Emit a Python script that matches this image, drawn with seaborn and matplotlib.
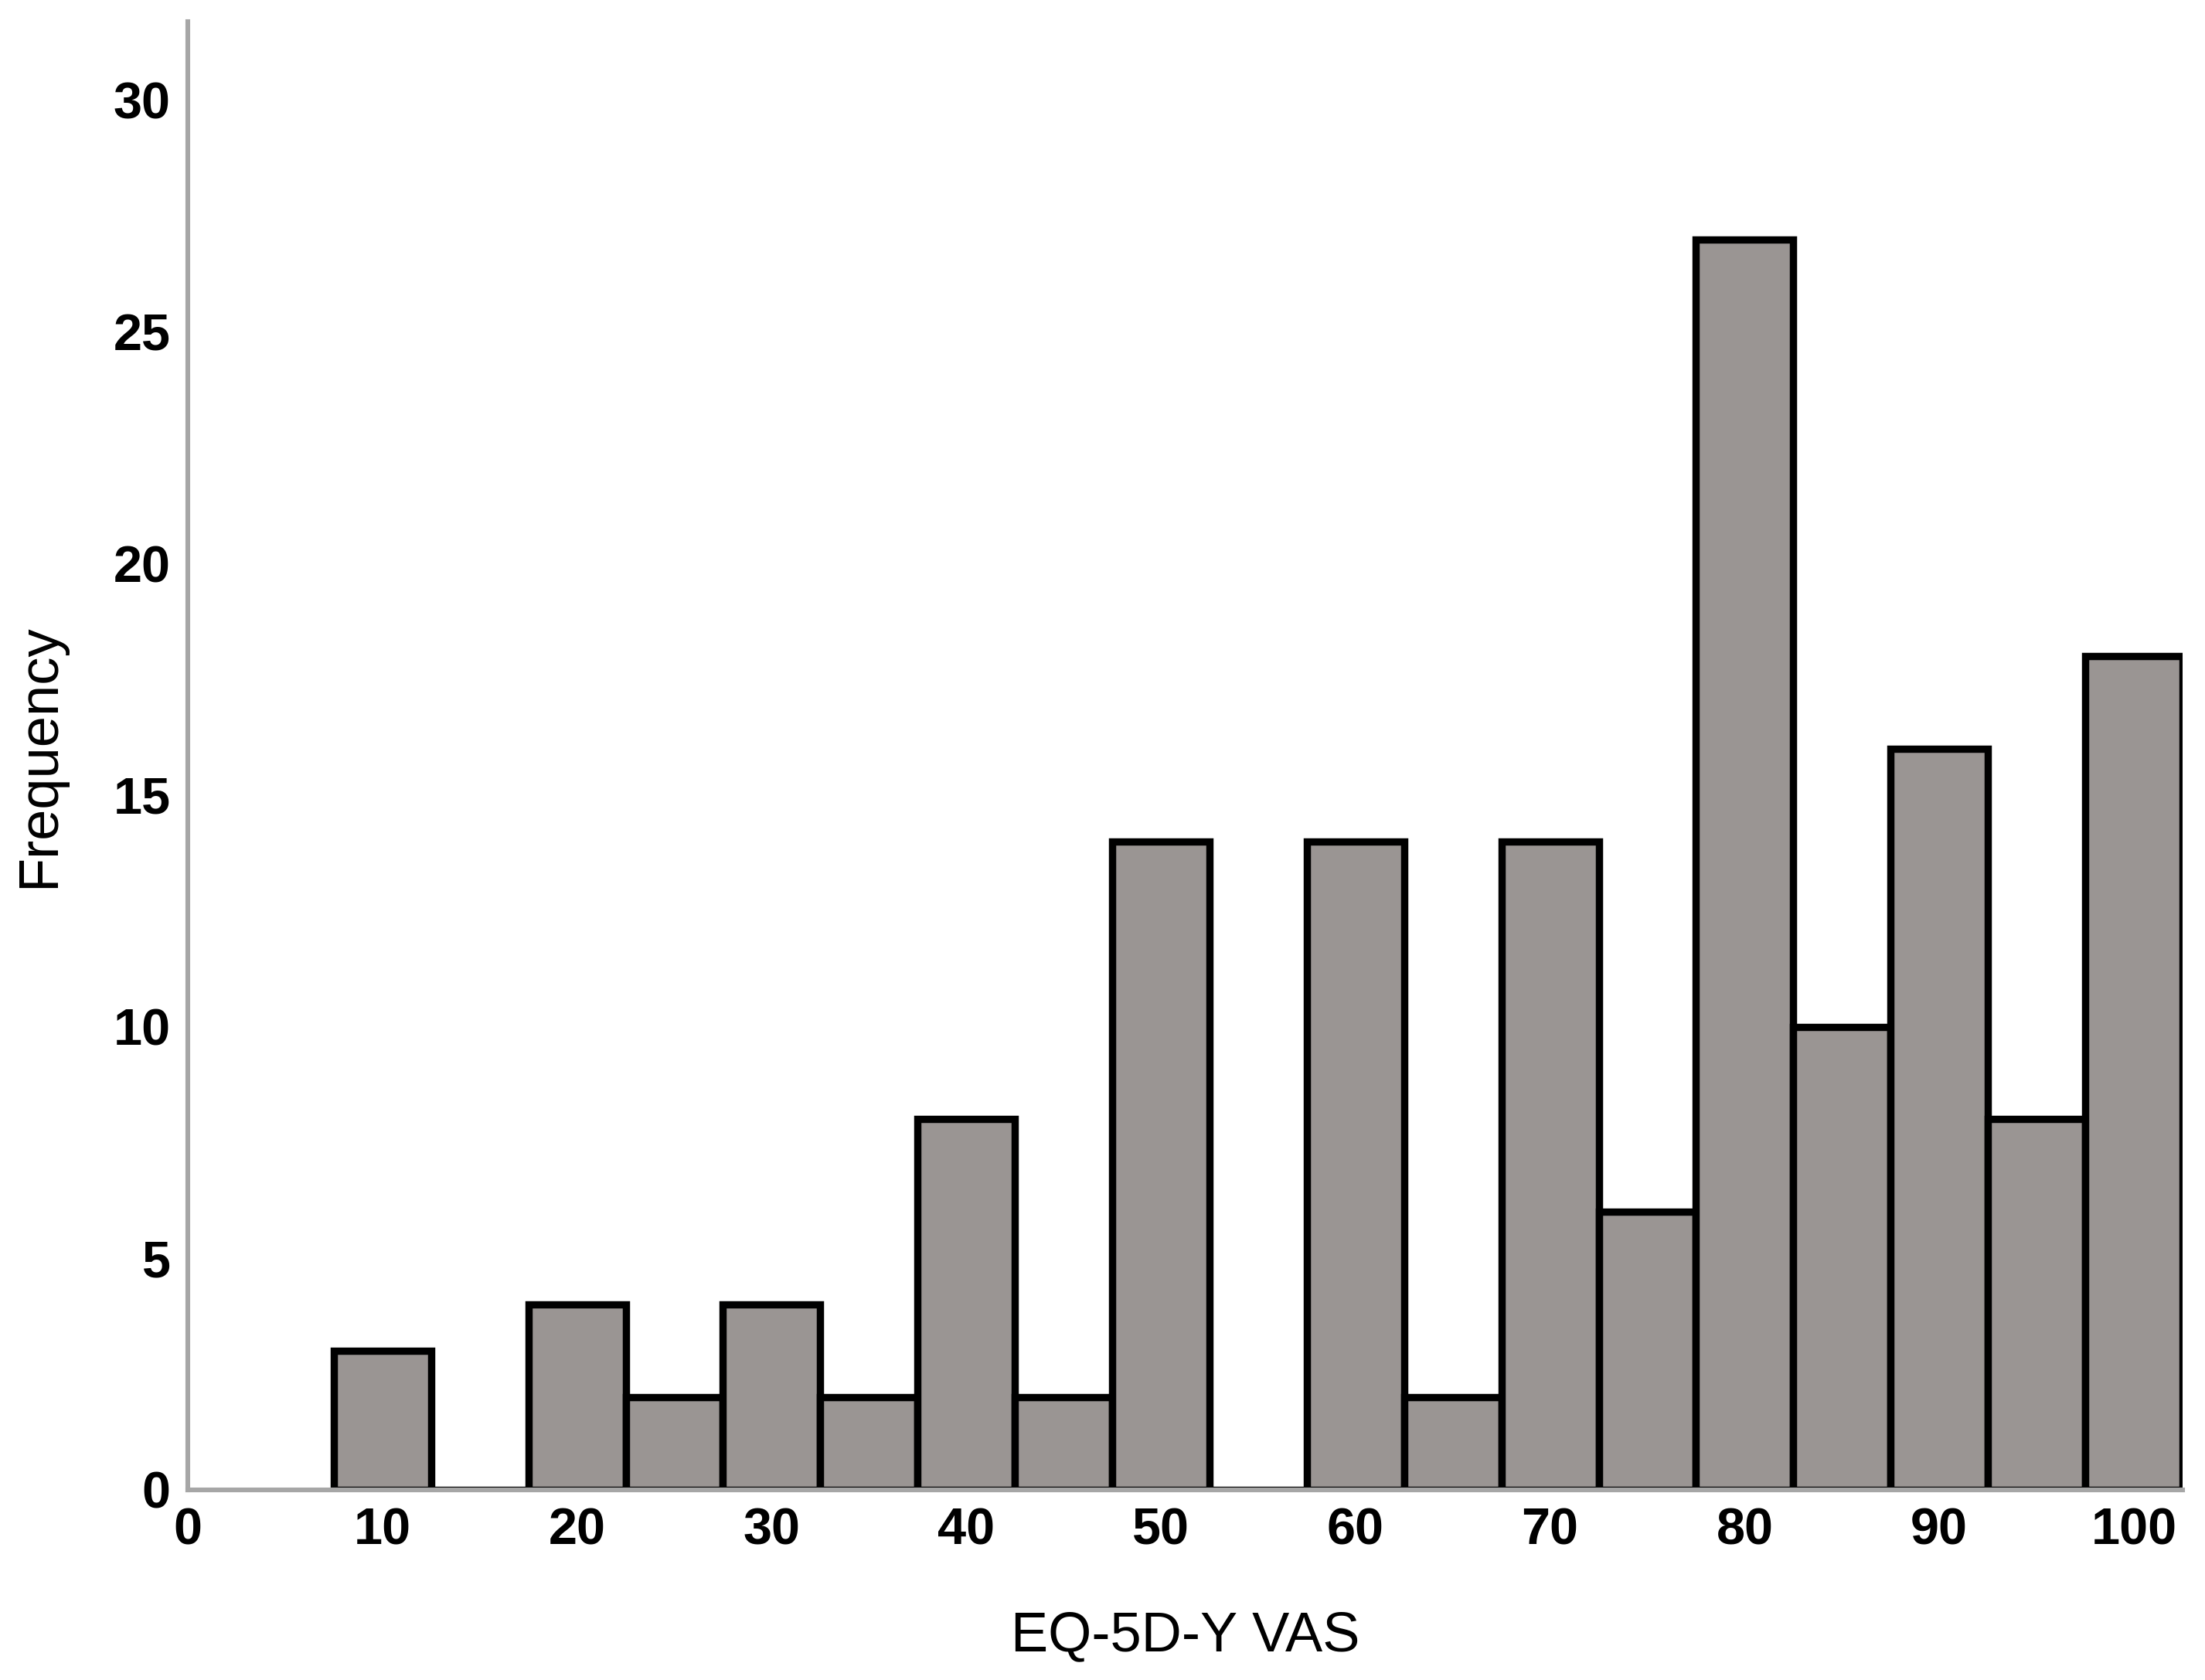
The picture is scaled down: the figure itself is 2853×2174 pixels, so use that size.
import numpy as np
import pandas as pd
import seaborn as sns
import matplotlib.pyplot as plt

# EQ-5D-Y VAS scores (bin centres) and how many children gave them
scores = [10, 20, 25, 30, 35, 40, 45, 50, 60, 65, 70, 75, 80, 85, 90, 95, 100]
counts = [3, 4, 2, 4, 2, 8, 2, 14, 14, 2, 14, 6, 27, 10, 16, 8, 18]

x_ticks = [0, 10, 20, 30, 40, 50, 60, 70, 80, 90, 100]
y_ticks = [0, 5, 10, 15, 20, 25, 30]

df = pd.DataFrame({"vas": scores, "n": counts})

sns.set_style("white")
plt.rcParams["font.family"] = ["Liberation Sans", "DejaVu Sans"]
plt.rcParams["text.color"] = "black"
plt.rcParams["axes.labelcolor"] = "black"
plt.rcParams["xtick.color"] = "black"
plt.rcParams["ytick.color"] = "black"

fig = plt.figure(figsize=(14.265, 10.87), dpi=200)
ax = fig.add_axes([0.0852, 0.1132, 0.9046, 0.8739])

sns.histplot(data=df, x="vas", weights="n", binwidth=5, binrange=(7.5, 102.5),
             color="#9a9593", alpha=1, edgecolor="black", linewidth=3.4, ax=ax)

ax.set_xlim(0, 102.5)
ax.set_ylim(0, 31.7)
ax.set_xticks(x_ticks)
ax.set_yticks(y_ticks)
ax.tick_params(length=0, labelsize=24, pad=8)
for lab in ax.get_xticklabels() + ax.get_yticklabels():
    lab.set_fontweight("bold")

ax.set_xlabel("EQ-5D-Y VAS", fontsize=26, labelpad=26)
ax.set_ylabel("Frequency", fontsize=26, labelpad=22)

for side in ["top", "right"]:
    ax.spines[side].set_visible(False)
for side in ["left", "bottom"]:
    ax.spines[side].set_color("#a6a6a6")
    ax.spines[side].set_linewidth(2.2)

fig.savefig("out.png", dpi=200)
